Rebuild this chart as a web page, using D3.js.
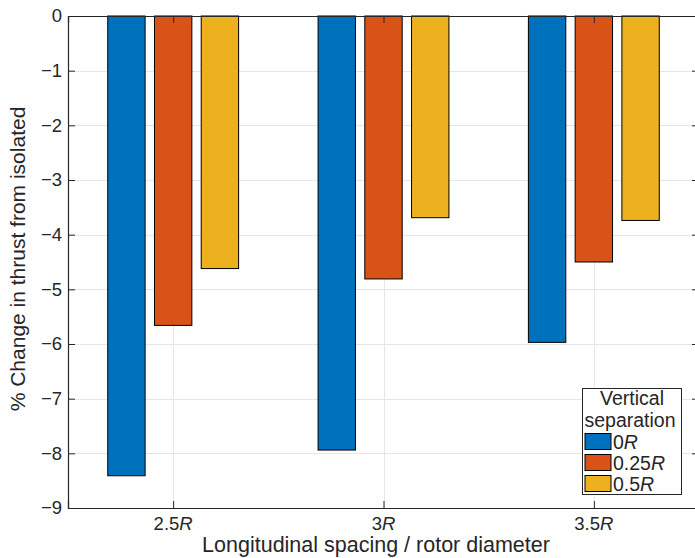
<!DOCTYPE html>
<html>
<head>
<meta charset="utf-8">
<script src="https://cdn.jsdelivr.net/npm/d3@7"></script>
<style>
  body { margin: 0; background: #fff; }
  text { font-family: "Liberation Sans", Arial, Helvetica, sans-serif; fill: #262626; }
</style>
</head>
<body>
<div id="viz"></div>
<script>
var spacings = ["2.5", "3", "3.5"];            // longitudinal spacing (× R)
var separations = ["0", "0.25", "0.5"];        // vertical separation (× R)
var sep0 = [-8.41, -7.94, -5.97];
var sep025 = [-5.66, -4.81, -4.50];
var sep05 = [-4.62, -3.69, -3.74];
var yTicks = [0, -1, -2, -3, -4, -5, -6, -7, -8, -9];

var colors = ["#0072BD", "#D95319", "#EDB120"];
var series = [sep0, sep025, sep05];

var width = 695,
    height = 558;
var pLeft = 68, pRight = 699, pTop = 16, pBottom = 508;

var svg = d3.select("#viz").append("svg")
    .attr("width", width)
    .attr("height", height);

// x is a linear scale like matlab's bar axis: groups at 1,2,3, limits [0.5, 3.5]
var x = d3.scaleLinear().domain([0.5, 3.5]).range([pLeft, pRight]);
var y = d3.scaleLinear().domain([0, -9]).range([pTop, pBottom]);

var groupW = 3 / 4.5,  // matlab grouped bar width, n/(n+1.5)
    slot = groupW / 3,
    barW = slot * 0.8;

// grid
var grid = svg.append("g").attr("stroke", "#e6e6e6").attr("stroke-width", 1);
grid.selectAll(".gy").data(yTicks.slice(1, -1)).enter().append("line")
    .attr("x1", pLeft).attr("x2", pRight)
    .attr("y1", function(d) { return Math.round(y(d)) + 0.5; })
    .attr("y2", function(d) { return Math.round(y(d)) + 0.5; });
grid.selectAll(".gx").data(spacings).enter().append("line")
    .attr("x1", function(d, i) { return Math.round(x(i + 1)) + 0.5; })
    .attr("x2", function(d, i) { return Math.round(x(i + 1)) + 0.5; })
    .attr("y1", pTop).attr("y2", pBottom);

// bars
series.forEach(function(vals, s) {
  svg.append("g").selectAll("rect").data(vals).enter().append("rect")
      .attr("x", function(d, i) { return x(i + 1 - groupW / 2 + slot * s + (slot - barW) / 2); })
      .attr("width", x(barW) - x(0))
      .attr("y", y(0))
      .attr("height", function(d) { return y(d) - y(0); })
      .attr("fill", colors[s])
      .attr("stroke", "#000")
      .attr("stroke-width", 1);
});

// axes
var yAxis = d3.axisLeft(y).tickValues(yTicks).tickSize(-7).tickPadding(6)
    .tickFormat(function(d) { return d === 0 ? "0" : "\u2212" + Math.abs(d); });
var gy = svg.append("g").attr("transform", "translate(" + pLeft + ",0)").call(yAxis);
gy.selectAll("text").attr("x", -6);

var yRight = d3.axisRight(y).tickValues(yTicks).tickSize(-7).tickFormat("");
svg.append("g").attr("transform", "translate(" + pRight + ",0)").call(yRight);

var xAxis = d3.axisBottom(x).tickValues([1, 2, 3]).tickSize(-7).tickPadding(0)
    .tickFormat("");
svg.append("g").attr("transform", "translate(0," + pBottom + ")").call(xAxis);
var xTop = d3.axisTop(x).tickValues([1, 2, 3]).tickSize(-7).tickFormat("");
svg.append("g").attr("transform", "translate(0," + pTop + ")").call(xTop);

svg.selectAll(".domain").attr("stroke", "#262626").attr("stroke-width", 1.2);
svg.selectAll(".tick line").attr("stroke", "#262626");
svg.selectAll(".tick text").attr("font-size", 18.5).attr("fill", "#262626")
    .attr("font-family", "'Liberation Sans', Arial, sans-serif");

// x tick labels with italic R
var xl = svg.append("g").selectAll("text").data(spacings).enter().append("text")
    .attr("x", function(d, i) { return x(i + 1); })
    .attr("y", 530)
    .attr("text-anchor", "middle")
    .attr("font-size", 18.5);
xl.append("tspan").text(function(d) { return d; });
xl.append("tspan").attr("font-style", "italic").text("R");

// axis labels
svg.append("text")
    .attr("x", 376).attr("y", 552)
    .attr("text-anchor", "middle").attr("font-size", 21.5)
    .text("Longitudinal spacing / rotor diameter");
svg.append("text")
    .attr("transform", "translate(25," + 259 + ") rotate(-90)")
    .attr("text-anchor", "middle").attr("font-size", 21)
    .text("% Change in thrust from isolated");

// legend
var lg = svg.append("g");
lg.append("rect").attr("x", 582.5).attr("y", 388.5).attr("width", 99).attr("height", 106)
    .attr("fill", "#fff").attr("stroke", "#262626").attr("stroke-width", 1);
lg.append("text").attr("x", 632).attr("y", 405).attr("text-anchor", "middle")
    .attr("font-size", 19.5).text("Vertical");
lg.append("text").attr("x", 630).attr("y", 427).attr("text-anchor", "middle")
    .attr("font-size", 19.5).text("separation");
var items = lg.selectAll(".item").data(separations).enter().append("g")
    .attr("transform", function(d, i) { return "translate(585," + (433.5 + i * 21) + ")"; });
items.append("rect").attr("width", 26).attr("height", 16)
    .attr("fill", function(d, i) { return colors[i]; })
    .attr("stroke", "#000").attr("stroke-width", 1);
var it = items.append("text").attr("x", 28).attr("y", 15).attr("font-size", 19.5);
it.append("tspan").text(function(d) { return d; });
it.append("tspan").attr("font-style", "italic").text("R");
</script>
</body>
</html>
